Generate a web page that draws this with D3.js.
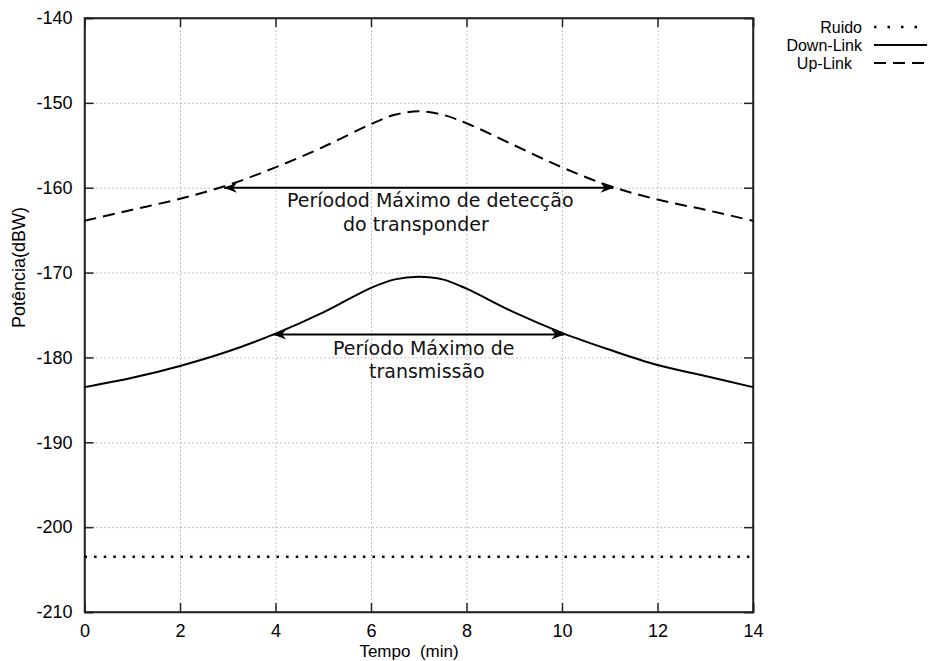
<!DOCTYPE html>
<html>
<head>
<meta charset="utf-8">
<script src="https://cdn.jsdelivr.net/npm/d3@7"></script>
<style>
  body { margin: 0; background: #fff; }
  svg { display: block; }
  .tick text { font-family: "Liberation Sans", Arial, sans-serif; font-size: 18px; fill: #000; }
</style>
</head>
<body>
<div id="chart"></div>
<script>
// data
var tempo = [0, 1, 2, 3, 4, 5, 6, 6.5, 7, 7.5, 8, 9, 10, 11, 12, 13, 14];
var upLink = [-163.9, -162.6, -161.3, -159.7, -157.6, -155.2, -152.5, -151.4, -151.0, -151.4, -152.4, -155.0, -157.6, -159.8, -161.4, -162.6, -163.9];
var downLink = [-183.5, -182.4, -181.0, -179.3, -177.2, -174.7, -171.8, -170.8, -170.5, -170.8, -171.9, -174.7, -177.1, -179.1, -180.9, -182.2, -183.5];
var ruidoT = [0, 14];
var ruido = [-203.5, -203.5];
var xTicks = [0, 2, 4, 6, 8, 10, 12, 14];
var yTicks = [-140, -150, -160, -170, -180, -190, -200, -210];
// arrows: [t1, t2, level]
var arrowUp = [2.92, 11.08, -160];
var arrowDown = [3.95, 10.05, -177.3];

var margin = {top: 18, right: 176, bottom: 49, left: 84.5},
    width = 929 - margin.left - margin.right,
    height = 661 - margin.top - margin.bottom;

var svgRoot = d3.select("#chart")
  .append("svg")
    .attr("width", 929)
    .attr("height", 661);

var defs = svgRoot.append("defs");
defs.append("marker")
    .attr("id", "head")
    .attr("viewBox", "-14 -6 16 12")
    .attr("refX", 0)
    .attr("refY", 0)
    .attr("markerWidth", 16)
    .attr("markerHeight", 12)
    .attr("markerUnits", "userSpaceOnUse")
    .attr("orient", "auto-start-reverse")
  .append("path")
    .attr("d", "M0,0 L-13,-5 L-9,0 L-13,5 Z")
    .attr("fill", "#000");

var svg = svgRoot.append("g")
    .attr("transform", "translate(" + margin.left + "," + margin.top + ")");

var x = d3.scaleLinear().domain([0, 14]).range([0, width]);
var y = d3.scaleLinear().domain([-210, -140]).range([height, 0]);

// grid
svg.append("g")
    .attr("class", "grid")
    .attr("transform", "translate(0," + height + ")")
    .call(d3.axisBottom(x).tickValues(xTicks.slice(1, -1)).tickSize(-height).tickFormat(""))
    .call(g => g.select(".domain").remove());
svg.append("g")
    .attr("class", "grid")
    .call(d3.axisLeft(y).tickValues(yTicks.slice(1, -1)).tickSize(-width).tickFormat(""))
    .call(g => g.select(".domain").remove());
svg.selectAll(".grid line")
    .attr("stroke", "#b0b0b0")
    .attr("stroke-width", 1)
    .attr("stroke-dasharray", "1.5,2.5");

// axes with inward ticks
svg.append("g")
    .attr("transform", "translate(0," + height + ")")
    .call(d3.axisBottom(x).tickValues(xTicks).tickSize(-9).tickPadding(12).tickFormat(d3.format("d")));
svg.append("g")
    .call(d3.axisTop(x).tickValues(xTicks).tickSize(-9).tickFormat(""));
svg.append("g")
    .call(d3.axisLeft(y).tickValues(yTicks).tickSize(-9).tickPadding(12).tickFormat(d => d3.format("d")(d).replace("\u2212", "-")));
svg.append("g")
    .attr("transform", "translate(" + width + ",0)")
    .call(d3.axisRight(y).tickValues(yTicks).tickSize(-9).tickFormat(""));
svg.selectAll(".domain").attr("stroke", "#222").attr("stroke-width", 1.5);
svg.selectAll(".tick line").filter(function () { return !this.closest(".grid"); })
    .attr("stroke", "#222").attr("stroke-width", 1.5);

// border
svg.append("rect")
    .attr("width", width).attr("height", height)
    .attr("fill", "none").attr("stroke", "#222").attr("stroke-width", 1.5);

var line = d3.line()
    .x(d => x(d[0]))
    .y(d => y(d[1]))
    .curve(d3.curveCatmullRom.alpha(0.5));

svg.append("path")
    .datum(d3.zip(tempo, upLink))
    .attr("d", line)
    .attr("fill", "none")
    .attr("stroke", "#000")
    .attr("stroke-width", 2)
    .attr("stroke-dasharray", "12,7");

svg.append("path")
    .datum(d3.zip(tempo, downLink))
    .attr("d", line)
    .attr("fill", "none")
    .attr("stroke", "#000")
    .attr("stroke-width", 2);

svg.append("path")
    .datum(d3.zip(ruidoT, ruido))
    .attr("d", line)
    .attr("fill", "none")
    .attr("stroke", "#000")
    .attr("stroke-width", 2.5)
    .attr("stroke-dasharray", "2.5,7.1");

// arrows
[arrowUp, arrowDown].forEach(function (a) {
  svg.append("line")
      .attr("x1", x(a[0])).attr("x2", x(a[1]))
      .attr("y1", y(a[2])).attr("y2", y(a[2]))
      .attr("stroke", "#000")
      .attr("stroke-width", 2)
      .attr("marker-start", "url(#head)")
      .attr("marker-end", "url(#head)");
});

// annotations
var note = svgRoot.append("g")
    .attr("font-family", "DejaVu Sans, sans-serif")
    .attr("font-size", 19)
    .attr("fill", "#111");
note.append("text").attr("x", 287).attr("y", 207).text("Períodod Máximo de detecção");
note.append("text").attr("x", 343).attr("y", 231).text("do transponder");
note.append("text").attr("x", 333).attr("y", 355).text("Período Máximo de");
note.append("text").attr("x", 369).attr("y", 378).text("transmissão");

// axis labels
var lab = svgRoot.append("g")
    .attr("font-family", "Liberation Sans, Arial, sans-serif")
    .attr("font-size", 18)
    .attr("fill", "#000");
lab.append("text")
    .attr("x", 409).attr("y", 656.5)
    .attr("text-anchor", "middle")
    .attr("font-size", 17)
    .style("white-space", "pre")
    .text("Tempo  (min)");
lab.append("text")
    .attr("transform", "translate(25,328) rotate(-90)")
    .attr("text-anchor", "start")
    .text("Potência(dBW)");

// legend
var legend = [
  {name: "Ruido", dash: "2.5,11", w: 2.5, right: 862},
  {name: "Down-Link", dash: null, w: 2, right: 862},
  {name: "Up-Link", dash: "12,7", w: 2, right: 852}
];
legend.forEach(function (d, i) {
  var cy = 27 + i * 18;
  lab.append("text")
      .attr("x", d.right).attr("y", cy + 5.6)
      .attr("text-anchor", "end")
      .attr("font-size", 16)
      .text(d.name);
  lab.append("line")
      .attr("x1", 874).attr("x2", 927)
      .attr("y1", cy).attr("y2", cy)
      .attr("stroke", "#000")
      .attr("stroke-width", d.w)
      .attr("stroke-dasharray", d.dash);
});
</script>
</body>
</html>
